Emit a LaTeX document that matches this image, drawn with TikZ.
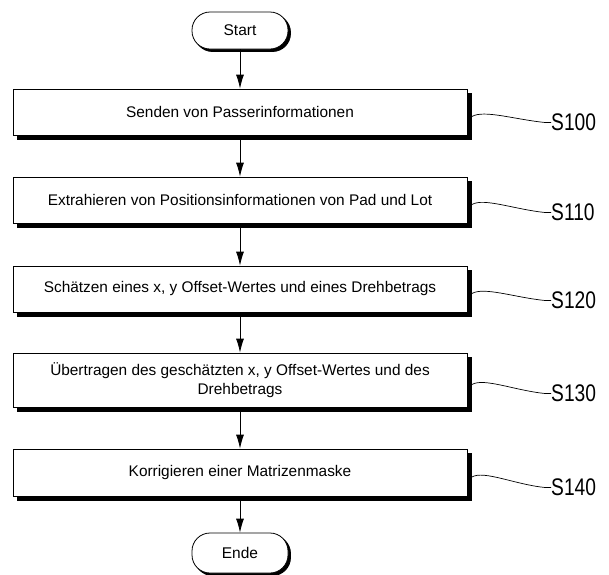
\documentclass[tikz,border=0pt]{standalone}
\usepackage{fontspec}
\setmainfont{Liberation Sans}
\usetikzlibrary{arrows.meta,shadows,calc}
\tikzset{
  stepbox/.style={draw=black, line width=0.8pt, fill=white, minimum width=454pt,
    inner sep=0pt, align=center, font=\fontsize{15.4}{18.5}\selectfont,
    copy shadow={shadow xshift=4.5pt, shadow yshift=-4.5pt, fill=black, draw=black}},
  terminal/.style={draw=black, line width=0.8pt, fill=white, rounded corners=18pt,
    minimum width=96pt, minimum height=37pt, inner sep=0pt,
    font=\fontsize{15.5}{18}\selectfont,
    copy shadow={shadow xshift=2.5pt, shadow yshift=-2.5pt, fill=black, draw=black}},
  steplabel/.style={inner sep=0pt, anchor=west,
    font=\fontsize{24}{24}\selectfont},
  flow/.style={line width=0.8pt, -{Latex[length=14pt,width=8pt]}},
  wave/.style={line width=0.7pt}
}
\newcommand{\stepname}[1]{\scalebox{0.8}[1]{#1}}
\begin{document}
\begin{tikzpicture}[x=1pt,y=-1pt]
\useasboundingbox (0,0) rectangle (609,574);
\node[terminal] (start) at (240,30.5) {Start};
\node[stepbox, minimum height=46pt] (b1) at (240,112) {Senden von Passerinformationen};
\node[stepbox, minimum height=46pt] (b2) at (240,200) {Extrahieren von Positionsinformationen von Pad und Lot};
\node[stepbox, minimum height=46pt] (b3) at (240,289) {Schätzen eines x, y Offset-Wertes und eines Drehbetrags};
\node[stepbox, minimum height=54pt] (b4) at (240,380) {Übertragen des geschätzten x, y Offset-Wertes und des\\Drehbetrags};
\node[stepbox, minimum height=47pt] (b5) at (240,472.5) {Korrigieren einer Matrizenmaske};
\node[terminal, minimum height=40pt] (ende) at (240,553) {Ende};

\draw[flow] (start.south) -- (b1.north);
\draw[flow] ($(b1.south)+(0,4.5)$) -- (b2.north);
\draw[flow] ($(b2.south)+(0,4.5)$) -- (b3.north);
\draw[flow] ($(b3.south)+(0,4.5)$) -- (b4.north);
\draw[flow] ($(b4.south)+(0,4.5)$) -- (b5.north);
\draw[flow] ($(b5.south)+(0,4.5)$) -- (ende.north);

\node[steplabel] (s100) at (551,122.5) {\stepname{S100}};
\node[steplabel] (s110) at (551,212.5) {\stepname{S110}};
\node[steplabel] (s120) at (551,300.5) {\stepname{S120}};
\node[steplabel] (s130) at (551,393.5) {\stepname{S130}};
\node[steplabel] (s140) at (551,487.5) {\stepname{S140}};

\foreach \b/\s in {b1/s100,b2/s110,b3/s120,b4/s130,b5/s140}{
  \draw[wave] ($(\b.east)+(4.5,4.5)$) .. controls ++(12,-7) and ++(-30,-3) .. ($(\s.west)+(-6,0)$) -- (\s.west);
}
\end{tikzpicture}
\end{document}
